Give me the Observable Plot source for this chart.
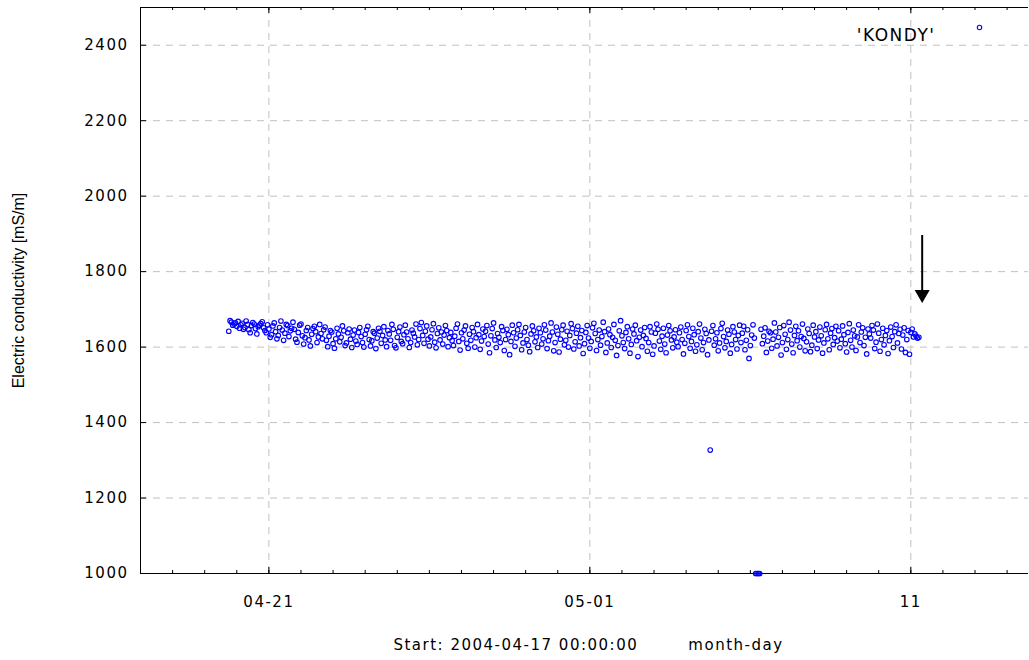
<!DOCTYPE html>
<html>
<head>
<meta charset="utf-8">
<script src="https://cdn.jsdelivr.net/npm/d3@7"></script>
<script src="https://cdn.jsdelivr.net/npm/@observablehq/plot@0.6"></script>
<style>
  html, body { margin: 0; padding: 0; background: #fff; }
</style>
</head>
<body>
<div id="chart"></div>
<script>
// ---- data ----
const seriesName = "'KONDY'";
const firstTime = "2004-04-19T18:00:00Z"; // first sample, hourly samples
const kondy = [
  // 04-19 18h
  1642,1670,1666,1658,1661,1664,1655,1668,1650,1659,1663,1647,1652,1669,1660,1646,1638,1657,1665,1661,1649,1635,1654,1658,
  // 04-20 18h
  1662,1667,1651,1644,1638,1659,1648,1626,1633,1656,1664,1641,1622,1631,1652,1669,1645,1618,1637,1660,1657,1628,1643,1650,
  // 04-21 18h
  1666,1647,1621,1613,1639,1658,1661,1630,1608,1625,1644,1652,1619,1603,1634,1649,1655,1641,1612,1627,1660,1636,1622,1646,
  // 04-22 18h
  1653,1618,1601,1629,1644,1640,1609,1597,1622,1650,1635,1614,1626,1656,1643,1604,1611,1638,1648,1621,1599,1632,1645,1616,
  // 04-23 18h
  1607,1639,1652,1628,1612,1600,1634,1646,1655,1620,1603,1617,1641,1637,1596,1624,1650,1642,1610,1631,1654,1619,1601,1644,
  // 04-24 18h
  1635,1618,1660,1647,1604,1598,1626,1641,1653,1615,1609,1633,1658,1640,1622,1599,1612,1645,1637,1627,1661,1606,1620,1649,
  // 04-25 18h
  1665,1631,1610,1642,1656,1621,1603,1627,1646,1662,1613,1598,1636,1651,1619,1640,1608,1632,1657,1644,1601,1625,1639,1617,
  // 04-26 18h
  1604,1629,1650,1661,1615,1592,1638,1622,1645,1656,1610,1597,1634,1618,1652,1641,1600,1625,1660,1633,1594,1616,1648,1628,
  // 04-27 18h
  1642,1657,1608,1585,1630,1649,1664,1619,1599,1636,1626,1612,1654,1644,1591,1620,1647,1633,1580,1615,1658,1638,1602,1624,
  // 04-28 18h
  1646,1660,1631,1593,1611,1640,1652,1620,1605,1588,1635,1656,1643,1614,1627,1599,1650,1638,1608,1622,1659,1645,1596,1617,
  // 04-29 18h
  1629,1664,1640,1590,1612,1653,1634,1587,1621,1646,1658,1606,1618,1642,1600,1631,1662,1649,1595,1614,1637,1655,1603,1625,
  // 04-30 18h
  1644,1583,1609,1639,1657,1624,1597,1615,1651,1663,1636,1591,1620,1645,1605,1628,1666,1641,1586,1611,1648,1633,1599,1626,
  // 05-01 18h
  1660,1618,1578,1604,1643,1670,1630,1612,1596,1639,1654,1622,1584,1607,1648,1635,1658,1617,1575,1626,1645,1601,1631,1652,
  // 05-02 18h
  1623,1589,1612,1654,1640,1581,1603,1637,1661,1647,1616,1594,1629,1650,1608,1585,1632,1657,1643,1619,1598,1627,1646,1613,
  // 05-03 18h
  1601,1638,1653,1620,1582,1610,1644,1659,1628,1597,1615,1650,1633,1589,1606,1641,1661,1624,1593,1612,1647,1636,1580,1619,
  // 05-04 18h
  1327,1642,1657,1605,1622,1638,1590,1611,1649,1663,1628,1598,1615,1645,1634,1584,1607,1654,1640,1620,1595,1631,1658,1612,
  // 05-05 18h
  1637,1655,1593,1618,1646,1570,1604,1632,1659,1624,1000,1000,1000,1000,1647,1609,1629,1651,1586,1616,1642,1638,1597,1621,
  // 05-06 18h
  1664,1640,1603,1626,1652,1579,1612,1657,1634,1594,1620,1666,1645,1608,1585,1631,1655,1617,1643,1600,1628,1661,1623,1590,
  // 05-07 18h
  1614,1648,1636,1588,1605,1658,1627,1641,1596,1619,1653,1630,1584,1611,1646,1660,1622,1593,1637,1649,1607,1625,1655,1616,
  // 05-08 18h
  1643,1598,1621,1656,1633,1609,1587,1639,1662,1618,1600,1645,1630,1591,1627,1659,1612,1640,1651,1604,1626,1582,1648,1635,
  // 05-09 18h
  1624,1657,1645,1596,1613,1661,1637,1589,1620,1650,1606,1631,1644,1583,1617,1653,1628,1599,1641,1659,1611,1636,1647,1595,
  // 05-10 18h
  1632,1651,1586,1620,1644,1581,1639,1648,1627,1635,1629,1624,1626
];

const xDomain = ["2004-04-17T00:00:00Z", "2004-05-14T16:00:00Z"];
const yDomain = [1000, 2500];
const yTicks = [1000, 1200, 1400, 1600, 1800, 2000, 2200, 2400];
const yGridTicks = [1200, 1400, 1600, 1800, 2000, 2200, 2400];
const xTickDates = ["2004-04-21", "2004-05-01", "2004-05-11"];
const xTickLabels = ["04-21", "05-01", "11"];
const xLabel = "Start: 2004-04-17 00:00:00\u00a0\u00a0\u00a0\u00a0\u00a0\u00a0\u00a0\u00a0month-day";
const yLabel = "Electric conductivity [mS/m]";
const arrowTime = "2004-05-11T08:30:00Z";
const arrowFrom = 1897;
const arrowTo = 1740;

// ---- build table ----
const t0 = new Date(firstTime).getTime();
const data = kondy.map((v, i) => ({t: new Date(t0 + i * 3600e3), v}));
const xMajor = xTickDates.map(d => new Date(d + "T00:00:00Z"));
const xMinor = d3.utcDay.range(new Date(xDomain[0]), new Date(xDomain[1]));
const arrow = [{t: new Date(arrowTime), from: arrowFrom, to: arrowTo}];

const frameW = 1028 - 140, frameH = 573 - 7;
const gridStyle = {stroke: "#c0c0c0", strokeOpacity: 1, strokeDasharray: "7,6", strokeWidth: 1};

const chart = Plot.plot({
  width: 1029,
  height: 660,
  marginLeft: 140,
  marginRight: 1,
  marginTop: 7,
  marginBottom: 87,
  style: {fontFamily: "DejaVu Sans", fontSize: "15px", letterSpacing: "1.5px", background: "#fff", color: "#000", overflow: "visible"},
  x: {type: "utc", domain: xDomain.map(d => new Date(d)), label: null},
  y: {domain: yDomain, label: null},
  marks: [
    Plot.gridY(yGridTicks, gridStyle),
    Plot.gridX(xMajor, gridStyle),
    // frame lines
    Plot.ruleY([yDomain[0], yDomain[1]], {stroke: "#000", strokeWidth: 1}),
    Plot.ruleX([new Date(xDomain[0])], {stroke: "#000", strokeWidth: 1}),
    // inward ticks
    Plot.tickY(yTicks, {y: d => d, insetRight: frameW - 6, stroke: "#000"}),
    Plot.tickX(xMajor, {x: d => d, insetTop: frameH - 6, stroke: "#000"}),
    Plot.tickX(xMinor, {x: d => d, insetTop: frameH - 3, stroke: "#000"}),
    Plot.tickX(xMajor, {x: d => d, insetBottom: frameH - 6, stroke: "#000"}),
    Plot.tickX(xMinor, {x: d => d, insetBottom: frameH - 3, stroke: "#000"}),
    // axis labels
    Plot.axisY(yTicks, {tickSize: 0, tickPadding: 12, label: null, fontSize: 15, tickFormat: d => String(d)}),
    Plot.axisX(xMajor, {tickSize: 0, tickPadding: 23, label: null, fontSize: 15,
      tickFormat: d => xTickLabels[xTickDates.indexOf(d.toISOString().slice(0, 10))]}),
    Plot.text([xLabel], {frameAnchor: "bottom", dy: 76, dx: 4, text: d => d, fontSize: 15}),
    Plot.text([yLabel], {frameAnchor: "left", dx: -122, rotate: -90, textAnchor: "middle", text: d => d, fontSize: 16, fontFamily: "Liberation Sans"}),
    // data
    Plot.dot(data, {x: "t", y: "v", r: 2.3, stroke: "#0000ff", strokeWidth: 1.1, fill: "none"}),
    // arrow annotation
    Plot.link(arrow, {x1: "t", x2: "t", y1: "from", y2: "to", stroke: "#000", strokeWidth: 2}),
    Plot.dot(arrow, {x: "t", y: "to", symbol: "triangle", rotate: 180, r: 5.6, fill: "#000", stroke: "none"}),
    // legend
    Plot.text([seriesName], {frameAnchor: "top-right", dx: -93, dy: 21, textAnchor: "end", text: d => d, fontSize: 17}),
    Plot.dot([seriesName], {frameAnchor: "top-right", dx: -49, dy: 20, r: 2.2, stroke: "#0000ff", fill: "none", strokeWidth: 1.1})
  ]
});

chart.querySelectorAll("text").forEach(el => {
  if (el.textContent === yLabel) el.style.letterSpacing = "0px";
});
document.getElementById("chart").appendChild(chart);
</script>
</body>
</html>
